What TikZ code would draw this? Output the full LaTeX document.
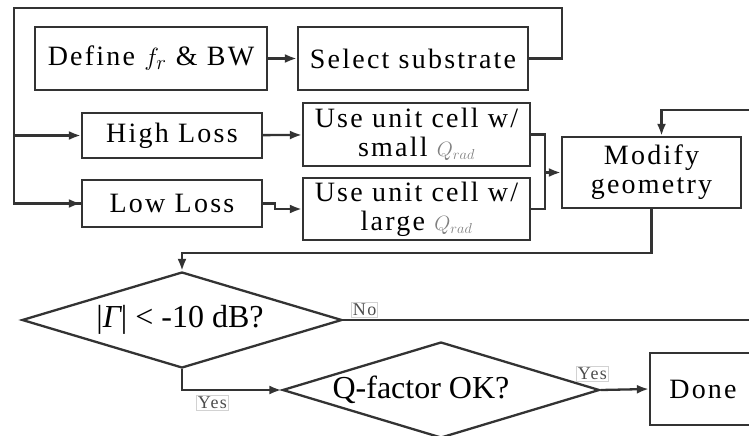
\documentclass[tikz,border=0pt]{standalone}
\usepackage{amsmath,amssymb}
\usepackage{xcolor}
\usepackage{fontspec}
\setmainfont[LetterSpace=8]{Liberation Serif}
\newfontfamily\plainfont{Liberation Serif}
\usetikzlibrary{shapes.geometric,arrows.meta}

\begin{document}
\begin{tikzpicture}[x=1pt, y=-1pt, >={Latex[length=12pt,width=9pt]}, line width=2.3pt, draw=black!80,
    box/.style={draw, rectangle, inner sep=0pt, align=center, font=\fontsize{28}{29}\selectfont},
    decide/.style={draw, diamond, aspect=3.3, inner sep=0pt},
    ask/.style={inner sep=0pt, font=\plainfont\fontsize{32}{36}\selectfont},
    tag/.style={draw=gray!35, line width=0.8pt, inner sep=1.5pt, text=black!70, font=\fontsize{18}{20}\selectfont}]
    \useasboundingbox (0,0) rectangle (749,436);
    \clip (0,0) rectangle (749,436);

    % top row
    \node[box, minimum width=232, minimum height=63] (define) at (151,58.5) {Define $f_r$ \& BW};
    \node[box, minimum width=230, minimum height=63] (select) at (413,58.5) {Select substrate};

    % loss branches
    \node[box, minimum width=180, minimum height=45] (high) at (172,135.5) {High Loss};
    \node[box, minimum width=180, minimum height=47] (low) at (172,203.5) {Low Loss};
    \node[box, minimum width=227, minimum height=63] (small) at (416.5,134.5) {Use unit cell w/\\small {\color{gray}\fontsize{20}{20}\selectfont$Q_{rad}$}};
    \node[box, minimum width=227, minimum height=62] (large) at (416.5,209) {Use unit cell w/\\large {\color{gray}\fontsize{20}{20}\selectfont$Q_{rad}$}};
    \node[box, minimum width=179, minimum height=71] (modify) at (651.5,172.5) {Modify\\geometry};

    % decisions
    \node[decide, minimum width=320, minimum height=96] (gamma) at (182,320) {};
    \node[ask] (gtext) at (180,320) {|{\itshape Γ}| < -10 dB?};
    \node[decide, minimum width=317, minimum height=96] (qfac) at (441,390) {};
    \node[ask] (qtext) at (421,390) {Q-factor OK?};
    \node[box, minimum width=106, minimum height=72] (done) at (703,389) {Done};

    \coordinate (topr) at (562,8);
    \coordinate (topl) at (14,8);
    \coordinate (brk) at (545,172.5);
    \coordinate (back) at (653,253);
    \coordinate (loopr) at (775,320);
    \coordinate (loopt) at (775,110);

    \draw[->] (define) -- (select);
    \draw (select.east) -| (topr) -- (topl) |- (low.west);
    \draw[->] (topl |- high.west) -- (high.west);
    \draw[->] (topl |- low.west) -- (low.west);
    \draw[->] (high) -- (small);
    \draw[->] (low.east) -- ++(12,0) |- (large.west);
    \draw (small.east) -| (brk) |- (large.east);
    \draw[->] (brk) -- (modify.west);
    \draw[->] (modify.south) |- (back -| gamma.north) -- (gamma.north);

    % No: back to modify
    \draw (gamma.east) -- (loopr) -- (loopt);
    \draw[->] (loopt) -| ([xshift=10pt]modify.north);
    \node[tag, anchor=south west] (no) at (351,318) {No};

    % Yes paths
    \draw[->] (gamma.south) |- (qfac.west);
    \node[tag, anchor=north west] (yes1) at (196,395) {Yes};
    \draw[->] (qfac.east) -- (done.west);
    \node[tag, anchor=south west] (yes2) at (576,382) {Yes};
\end{tikzpicture}
\end{document}
